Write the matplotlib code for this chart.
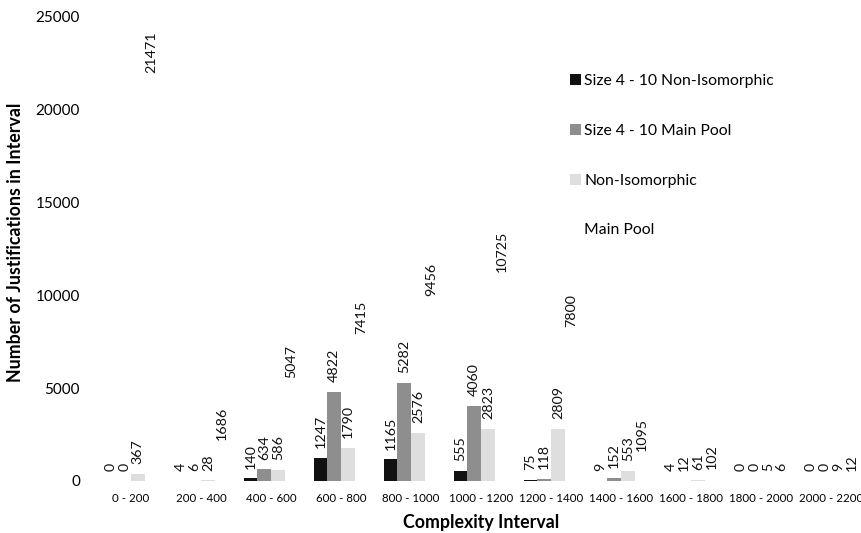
import numpy as np
import matplotlib
matplotlib.use("Agg")
from matplotlib import pyplot as plt
from matplotlib.patches import Patch

plt.rcParams['font.family'] = ['Lato', 'DejaVu Sans']

intervals = ['0 - 200', '200 - 400', '400 - 600', '600 - 800', '800 - 1000',
             '1000 - 1200', '1200 - 1400', '1400 - 1600', '1600 - 1800',
             '1800 - 2000', '2000 - 2200']

size_noniso = [0, 4, 140, 1247, 1165, 555, 75, 9, 4, 0, 0]
size_main = [0, 6, 634, 4822, 5282, 4060, 118, 152, 12, 0, 0]
noniso = [367, 28, 586, 1790, 2576, 2823, 2809, 553, 61, 5, 9]
main_pool = [21471, 1686, 5047, 7415, 9456, 10725, 7800, 1095, 102, 6, 12]

series = [
    ('Size 4 - 10 Non-Isomorphic', size_noniso, '#111111'),
    ('Size 4 - 10 Main Pool', size_main, '#8e8e8e'),
    ('Non-Isomorphic', noniso, '#dedede'),
    ('Main Pool', main_pool, '#ffffff'),
]

fig = plt.figure(figsize=(8.62, 5.33), dpi=100)
ax = fig.add_axes([96 / 862, 52 / 533, 770 / 862, 464 / 533])

x = np.arange(len(intervals))
width = 0.196
for i, (name, vals, col) in enumerate(series):
    pos = x + (i - 1.5) * width
    ax.bar(pos, vals, width, color=col, linewidth=0)
    for px, v in zip(pos, vals):
        ax.annotate(str(v), xy=(px, v), xytext=(0, 7), textcoords='offset points',
                    rotation=90, ha='center', va='bottom', fontsize=10.3,
                    color='#111111')

ax.set_xlim(-0.5, len(intervals) - 0.5)
ax.set_ylim(0, 25000)
ax.set_yticks(range(0, 25001, 5000))
ax.set_xticks(x)
ax.set_xticklabels(intervals, fontsize=8.3)
ax.tick_params(axis='x', length=0, pad=9)
ax.tick_params(axis='y', length=0, pad=11.5, labelsize=11)
for s in ax.spines.values():
    s.set_visible(False)

ax.set_xlabel('Complexity Interval', fontsize=12.8, fontweight='bold', labelpad=7)
ax.set_ylabel('Number of Justifications in Interval', fontsize=12.8,
              fontweight='bold')
ax.yaxis.set_label_coords(-0.094, 0.515)

handles = [Patch(facecolor=c, edgecolor='none', label=n) for n, v, c in series]
fig.legend(handles=handles, loc='upper left', bbox_to_anchor=(556 / 862, 1 - 60 / 533),
           frameon=False, fontsize=11.3, handlelength=0.7, handleheight=0.7,
           handletextpad=0.2, labelspacing=2.28)

fig.savefig('out.png', dpi=100)
